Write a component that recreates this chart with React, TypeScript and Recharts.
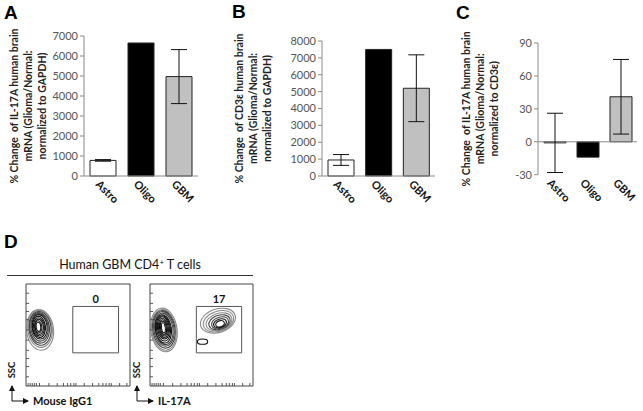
import React from 'react'
import {
  BarChart,
  Bar,
  XAxis,
  YAxis,
  ErrorBar,
  Cell,
  ReferenceLine,
  ReferenceArea,
  ScatterChart,
  Scatter,
} from 'recharts'

// ---- bar panels (A, B, C) ----
const cellTypes = ['Astro', 'Oligo', 'GBM']

const il17aVsGapdh = [780, 6650, 4970]
const il17aVsGapdhErr = [40, 0, 1350]

const cd3eVsGapdh = [950, 7500, 5200]
const cd3eVsGapdhErr = [320, 0, 1980]

const il17aVsCd3e = [-1, -14, 41]
const il17aVsCd3eErr = [27, 0, 34]

const ticksA = [0, 1000, 2000, 3000, 4000, 5000, 6000, 7000]
const ticksB = [0, 1000, 2000, 3000, 4000, 5000, 6000, 7000, 8000]
const ticksC = [-30, 0, 30, 60, 90]

const titleA = ['% Change  of IL-17A human brain', 'mRNA (Glioma/Normal:', 'normalized to GAPDH)']
const titleB = ['% Change  of CD3\u03b5 human brain', 'mRNA (Glioma/Normal:', 'normalized to GAPDH)']
const titleC = ['% Change  of IL-17A human brain', 'mRNA (Glioma/Normal:', 'normalized to CD3\u03b5)']

// ---- flow panel (D) ----
const isotypeContours = [
  { x: 13.5, y: 55, rx: 13, ry: 20, tilt: -6 },
  { x: 13.5, y: 56, rx: 11.8, ry: 18.2, tilt: -6 },
  { x: 13.5, y: 56.5, rx: 10.6, ry: 16.6, tilt: -6 },
  { x: 13, y: 57, rx: 9.5, ry: 15, tilt: -6 },
  { x: 13, y: 57.5, rx: 8.4, ry: 13.5, tilt: -6 },
  { x: 13, y: 58, rx: 7.3, ry: 12, tilt: -6 },
  { x: 12.5, y: 58, rx: 6.2, ry: 10.5, tilt: -6 },
  { x: 12.5, y: 58, rx: 5.2, ry: 9, tilt: -6 },
  { x: 12.5, y: 58, rx: 4.2, ry: 7.5, tilt: -6 },
  { x: 12, y: 58, rx: 3.2, ry: 6, tilt: -6 },
  { x: 12, y: 58, rx: 2.2, ry: 4.5, tilt: -6 },
]
const isotypePeaks = [{ x: 12, y: 58 }]

const il17aContours = [
  { x: 13.5, y: 55, rx: 12.8, ry: 21.5, tilt: -8 },
  { x: 13.5, y: 55, rx: 11.8, ry: 20, tilt: -8 },
  { x: 13.5, y: 55.5, rx: 10.8, ry: 18.5, tilt: -8 },
  { x: 13.5, y: 56, rx: 9.8, ry: 17, tilt: -8 },
  { x: 13.5, y: 56, rx: 8.8, ry: 15.5, tilt: -8 },
  { x: 13, y: 56, rx: 7.8, ry: 14, tilt: -8 },
  { x: 13, y: 56.5, rx: 6.8, ry: 12.5, tilt: -8 },
  { x: 13, y: 57, rx: 5.8, ry: 11, tilt: -8 },
  { x: 13, y: 57, rx: 4.8, ry: 9.5, tilt: -8 },
  { x: 13, y: 57, rx: 3.8, ry: 8, tilt: -8 },
  { x: 13, y: 57, rx: 2.8, ry: 6.5, tilt: -8 },
  { x: 13, y: 57, rx: 1.8, ry: 5, tilt: -8 },
  // IL-17A+ population inside the gate
  { x: 66, y: 64, rx: 17.5, ry: 11.5, tilt: -18 },
  { x: 66.5, y: 63.5, rx: 15.2, ry: 9.8, tilt: -18 },
  { x: 67, y: 63, rx: 12.9, ry: 8.3, tilt: -18 },
  { x: 67.5, y: 62.5, rx: 10.7, ry: 6.9, tilt: -18 },
  { x: 68, y: 62, rx: 8.5, ry: 5.5, tilt: -18 },
  { x: 68, y: 61.5, rx: 6.4, ry: 4.2, tilt: -18 },
  { x: 68, y: 61, rx: 4.3, ry: 3, tilt: -18 },
  { x: 51, y: 43.5, rx: 5, ry: 2.6, tilt: 0 },
]
const il17aPeaks = [{ x: 13, y: 57 }, { x: 68, y: 61 }]

const gateRange = { x1: 45, x2: 89, y1: 32.5, y2: 78 }
const gateLabels = ['0', '17']

const flowXTicks = [2, 4, 6, 8, 10, 13, 22, 30, 36, 40, 43, 46, 48, 56, 64, 70, 74, 77, 80, 82, 90, 97]
const flowYTicks = [9, 19, 27, 35, 45, 55, 65, 73, 81, 91]

const barFills = ['#ffffff', '#000000', '#c0c0c0']
const AXIS = '#8a8a8a'
const FONT = 'Lato, "Open Sans", sans-serif'

const toRows = (values: number[], errs: number[]) =>
  cellTypes.map((cell, i) => ({ cell, value: values[i], err: errs[i] }))

function CellTick({ x, y, payload }: any) {
  const tx = x - 8
  const ty = y + 9
  return (
    <text
      x={tx}
      y={ty}
      transform={`rotate(45 ${tx} ${ty})`}
      textAnchor="start"
      fontSize={11}
      fontWeight={700}
      fill="#111"
      fontFamily={FONT}
    >
      {payload.value}
    </text>
  )
}

// flow axes show only their little tick marks, drawn inside the frame
function FlowTickX({ x, y }: any) {
  return <line x1={x} x2={x} y1={y} y2={y - 3} stroke="#555" strokeWidth={1} />
}
function FlowTickY({ x, y }: any) {
  return <line x1={x} x2={x + 3} y1={y} y2={y} stroke="#555" strokeWidth={1} />
}

function AxisTitle({ viewBox, lines, x0 }: any) {
  const cx = viewBox.x + x0
  const cy = viewBox.y + viewBox.height / 2
  return (
    <text
      transform={`translate(${cx},${cy}) rotate(-90)`}
      textAnchor="middle"
      fontSize={10.5}
      fontWeight={700}
      fill="#222"
      fontFamily={FONT}
      style={{ whiteSpace: 'pre' }}
    >
      {lines.map((l: string, i: number) => (
        <tspan key={i} x={0} dy={i === 0 ? 0 : 14}>
          {l}
        </tspan>
      ))}
    </text>
  )
}

interface PanelProps {
  rows: { cell: string; value: number; err: number }[]
  ticks: number[]
  left: number
  width: number
  yAxisWidth: number
  marginTop: number
  marginRight: number
  barSize: number
  title: string[]
  titleX: number
  zeroLine?: boolean
}

function PercentChangePanel(p: PanelProps) {
  return (
    <div style={{ position: 'absolute', left: p.left, top: 0 }}>
      <BarChart
        width={p.width}
        height={206}
        data={p.rows}
        barSize={p.barSize}
        margin={{ top: p.marginTop, right: p.marginRight, bottom: 0, left: 0 }}
      >
        <XAxis
          dataKey="cell"
          height={206 - 176 + (p.zeroLine ? 1.3 : 0)}
          axisLine={p.zeroLine ? false : { stroke: AXIS }}
          tickLine={false}
          tickSize={0}
          tickMargin={0}
          interval={0}
          tick={<CellTick />}
        />
        <YAxis
          type="number"
          domain={[p.ticks[0], p.ticks[p.ticks.length - 1]]}
          ticks={p.ticks}
          interval={0}
          width={p.yAxisWidth}
          axisLine={{ stroke: AXIS }}
          tickLine={{ stroke: AXIS }}
          tickSize={4}
          tick={{ fill: '#555', fontSize: 11, fontFamily: FONT }}
          label={<AxisTitle lines={p.title} x0={p.titleX} />}
        />
        {p.zeroLine && <ReferenceLine y={0} stroke={AXIS} />}
        <Bar dataKey="value" isAnimationActive={false} stroke="#222" strokeWidth={1}>
          {p.rows.map((r, i) => (
            <Cell key={r.cell} fill={barFills[i]} />
          ))}
          <ErrorBar dataKey="err" width={8} stroke="#111" strokeWidth={1} direction="y" />
        </Bar>
      </BarChart>
    </div>
  )
}

const ringShape = (ring: any, shade: string) => (props: any) => {
  const cx = props.x + props.width / 2
  const cy = props.y + props.height / 2
  return (
    <ellipse
      cx={cx}
      cy={cy}
      rx={Math.abs(props.width) / 2}
      ry={Math.abs(props.height) / 2}
      fill="none"
      stroke={shade}
      strokeWidth={1.1}
      transform={`rotate(${ring.tilt} ${cx} ${cy})`}
    />
  )
}

function FlowPlot({ left, width, contours, peaks, label }: any) {
  return (
    <div style={{ position: 'absolute', left: left - 1, top: 283 }}>
      <ScatterChart width={width + 2} height={104} margin={{ top: 1, right: 1, bottom: 0, left: 0 }}>
        <XAxis
          type="number"
          dataKey="x"
          domain={[0, 100]}
          allowDataOverflow
          ticks={flowXTicks}
          interval={0}
          height={1}
          axisLine={false}
          tickLine={false}
          tickSize={0}
          tickMargin={0}
          tick={<FlowTickX />}
        />
        <YAxis
          type="number"
          dataKey="y"
          domain={[0, 100]}
          allowDataOverflow
          ticks={flowYTicks}
          interval={0}
          width={1}
          axisLine={false}
          tickLine={false}
          tickSize={0}
          tickMargin={0}
          tick={<FlowTickY />}
        />
        <ReferenceArea x1={0} x2={100} y1={0} y2={100} fill="none" stroke="#444" strokeWidth={1} />
        {contours.map((c: any, i: number) => {
          const shade = c.rx >= 11 ? '#8a8a8a' : c.rx >= 8 ? '#444' : '#111'
          return (
            <ReferenceArea
              key={i}
              x1={c.x - c.rx}
              x2={c.x + c.rx}
              y1={c.y - c.ry}
              y2={c.y + c.ry}
              shape={ringShape(c, shade)}
            />
          )
        })}
        <ReferenceArea
          {...gateRange}
          fill="none"
          stroke="#555"
          strokeWidth={1}
          label={{ value: label, position: 'top', offset: 3, fontSize: 11, fontWeight: 700, fill: '#111', fontFamily: FONT }}
        />
        <Scatter
          data={peaks}
          isAnimationActive={false}
          shape={(s: any) => <circle cx={s.cx} cy={s.cy} r={1.2} fill="#fff" />}
        />
      </ScatterChart>
    </div>
  )
}

function Annotations() {
  const bold = { fontFamily: '"Liberation Sans", Arial, sans-serif', fontWeight: 700 }
  return (
    <svg width={643} height={411} style={{ position: 'absolute', left: 0, top: 0, pointerEvents: 'none' }}>
      <defs>
        <marker id="arr" markerWidth="6" markerHeight="6" refX="5" refY="3" orient="auto">
          <path d="M0,0 L6,3 L0,6 z" fill="#111" />
        </marker>
      </defs>
      <text x={4} y={19} fontSize={19} {...bold}>A</text>
      <text x={232} y={18} fontSize={19} {...bold}>B</text>
      <text x={456} y={19} fontSize={19} {...bold}>C</text>
      <text x={4} y={248} fontSize={19} {...bold}>D</text>

      <text x={130} y={269} textAnchor="middle" fontSize={12.5} fontFamily={FONT} fill="#111">
        Human GBM CD4<tspan dy={-4} fontSize={8}>+</tspan>
        <tspan dy={4}> T cells</tspan>
      </text>
      <line x1={7} x2={253} y1={275.5} y2={275.5} stroke="#333" strokeWidth={1} />

      {[{ x: 12, name: 'Mouse IgG1' }, { x: 137, name: 'IL-17A' }].map(a => (
        <g key={a.name}>
          <text
            transform={`translate(${a.x + 3},370) rotate(-90)`}
            textAnchor="middle"
            fontSize={9.5}
            fontFamily={FONT}
            fontWeight={700}
            fill="#111"
          >
            SSC
          </text>
          <path d={`M${a.x},401 V386`} stroke="#111" strokeWidth={1} markerEnd="url(#arr)" fill="none" />
          <path d={`M${a.x},401 H${a.x + 16}`} stroke="#111" strokeWidth={1} markerEnd="url(#arr)" fill="none" />
          <text x={a.x + 21} y={405} fontSize={11} fontFamily={FONT} fontWeight={700} fill="#111">
            {a.name}
          </text>
        </g>
      ))}
    </svg>
  )
}

export default function App() {
  return (
    <div style={{ position: 'absolute', left: 0, top: 0, width: 643, height: 411, background: '#fff' }}>
      <PercentChangePanel
        rows={toRows(il17aVsGapdh, il17aVsGapdhErr)}
        ticks={ticksA}
        left={0}
        width={215}
        yAxisWidth={84}
        marginTop={36}
        marginRight={17}
        barSize={26}
        title={titleA}
        titleX={18}
      />
      <PercentChangePanel
        rows={toRows(cd3eVsGapdh, cd3eVsGapdhErr)}
        ticks={ticksB}
        left={215}
        width={230}
        yAxisWidth={107}
        marginTop={41}
        marginRight={10}
        barSize={26}
        title={titleB}
        titleX={28}
      />
      <PercentChangePanel
        rows={toRows(il17aVsCd3e, il17aVsCd3eErr)}
        ticks={ticksC}
        left={425}
        width={218}
        yAxisWidth={113}
        marginTop={43}
        marginRight={6}
        barSize={22}
        title={titleC}
        titleX={45}
        zeroLine
      />
      <FlowPlot left={26} width={104} contours={isotypeContours} peaks={isotypePeaks} label={gateLabels[0]} />
      <FlowPlot left={150} width={103} contours={il17aContours} peaks={il17aPeaks} label={gateLabels[1]} />
      <Annotations />
    </div>
  )
}
